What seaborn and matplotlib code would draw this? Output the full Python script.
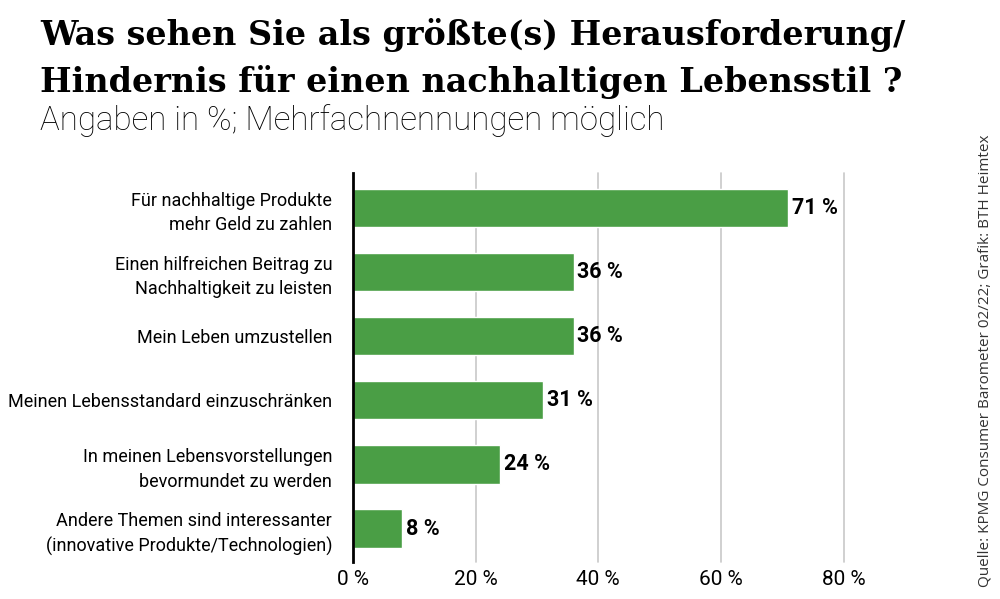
import matplotlib
matplotlib.use("Agg")
import matplotlib.pyplot as plt
import seaborn as sns
import pandas as pd

categories = [
    "Für nachhaltige Produkte\nmehr Geld zu zahlen",
    "Einen hilfreichen Beitrag zu\nNachhaltigkeit zu leisten",
    "Mein Leben umzustellen",
    "Meinen Lebensstandard einzuschränken",
    "In meinen Lebensvorstellungen\nbevormundet zu werden",
    "Andere Themen sind interessanter\n(innovative Produkte/Technologien)",
]
values = [71, 36, 36, 31, 24, 8]
tick_values = [0, 20, 40, 60, 80]
tick_labels = ["0 %", "20 %", "40 %", "60 %", "80 %"]

sns.set_theme(style="white")
plt.rcParams['font.family'] = ["Roboto", "DejaVu Sans"]

df = pd.DataFrame({"cat": categories, "val": values})

fig = plt.figure(figsize=(10, 5.99), dpi=100)
ax = fig.add_axes([0.353, 0.062, 0.493, 0.649])
sns.barplot(data=df, y="cat", x="val", orient="h", color="#4a9e45",
            saturation=1, width=0.6, ax=ax)
ax.set_xlim(0, 80.4)
ax.set_ylim(5.52, -0.54)
ax.set_xticks(tick_values)
ax.set_xticklabels(tick_labels, fontsize=15)
ax.tick_params(axis="x", length=0, pad=6)
ax.tick_params(axis="y", length=0, pad=15)
for lab in ax.get_yticklabels():
    lab.set_fontsize(13)
    lab.set_horizontalalignment("right")
    lab.set_multialignment("right")
    lab.set_linespacing(1.45)
    lab.set_color("black")
ax.set_xlabel("")
ax.set_ylabel("")
for x in tick_values[1:]:
    ax.axvline(x, color="#c8c8c8", lw=1.2, zorder=0, clip_on=False)
for s in ["top", "right", "bottom"]:
    ax.spines[s].set_visible(False)
ax.spines["left"].set_color("black")
ax.spines["left"].set_linewidth(2)
ax.spines["left"].set_zorder(5)
for lab in ax.get_xticklabels():
    lab.set_color("black")

for i, v in enumerate(values):
    ax.text(v + 0.6, i, f"{v} %", va="center", ha="left", fontsize=15.5,
            fontweight="bold", color="black")

fig.text(0.04, 0.925, "Was sehen Sie als größte(s) Herausforderung/", fontsize=24,
         fontweight="bold", family=["DejaVu Serif", "DejaVu Sans"], ha="left",
         va="baseline", color="black")
fig.text(0.04, 0.847, "Hindernis für einen nachhaltigen Lebensstil ?", fontsize=24,
         fontweight="bold", family=["DejaVu Serif", "DejaVu Sans"], ha="left",
         va="baseline", color="black")
fig.text(0.04, 0.783, "Angaben in %; Mehrfachnennungen möglich", fontsize=23.8,
         family=["Roboto", "DejaVu Sans"], fontweight="light", ha="left",
         va="baseline", color="black")
fig.text(0.985, 0.02, "Quelle: KPMG Consumer Barometer 02/22; Grafik: BTH Heimtex",
         rotation=90, fontsize=11, color="#333333", ha="center", va="bottom",
         family=["Open Sans", "DejaVu Sans"])

fig.savefig("out.png", dpi=100)
